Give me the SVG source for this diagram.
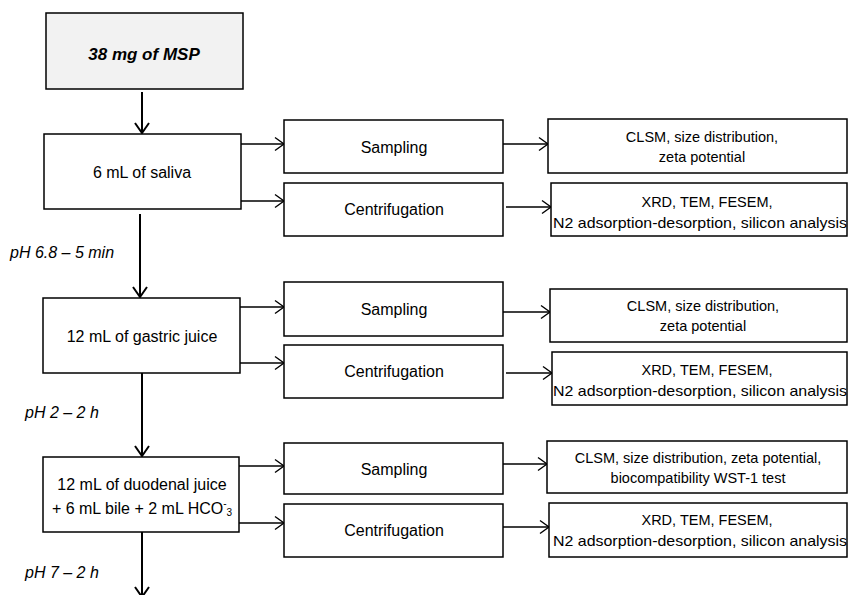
<svg xmlns="http://www.w3.org/2000/svg" width="848" height="595" viewBox="0 0 848 595">
<defs>
<style>
.box{fill:#ffffff;stroke:#000;stroke-width:1.5}
.src{fill:#f2f2f2;stroke:#000;stroke-width:1.5}
.t{font-family:"Liberation Sans",Arial,sans-serif;fill:#000;text-anchor:middle;dominant-baseline:central}
.m{font-size:16px}
.s{font-size:14.5px}
.ph{font-family:"Liberation Sans",Arial,sans-serif;font-style:italic;font-size:16px;fill:#000}
.h{fill:none;stroke:#000;stroke-width:1.3}
.v{fill:none;stroke:#000;stroke-width:2}
</style>
<marker id="ah" markerUnits="userSpaceOnUse" markerWidth="14" markerHeight="16" refX="12" refY="8" orient="auto">
<path d="M3,1.5 L12,8 L3,14.5" fill="none" stroke="#000" stroke-width="1.4"/>
</marker>
<marker id="av" markerUnits="userSpaceOnUse" markerWidth="16" markerHeight="18" refX="13" refY="9" orient="auto">
<path d="M3,2 L13,9 L3,16" fill="none" stroke="#000" stroke-width="2"/>
</marker>
</defs>
<rect width="848" height="595" fill="#ffffff"/>

<g id="connectors">
<line class="v" x1="142" y1="92" x2="142" y2="133" marker-end="url(#av)"/>
<line class="v" x1="140" y1="214" x2="140" y2="297" marker-end="url(#av)"/>
<line class="v" x1="142" y1="373" x2="142" y2="456" marker-end="url(#av)"/>
<line class="v" x1="142" y1="532" x2="142" y2="597" marker-end="url(#av)"/>

<line class="h" x1="241" y1="144" x2="284" y2="144" marker-end="url(#ah)"/>
<line class="h" x1="241" y1="201" x2="284" y2="201" marker-end="url(#ah)"/>
<line class="h" x1="503" y1="144" x2="548" y2="144" marker-end="url(#ah)"/>
<line class="h" x1="506" y1="207" x2="551" y2="207" marker-end="url(#ah)"/>

<line class="h" x1="240" y1="307" x2="284" y2="307" marker-end="url(#ah)"/>
<line class="h" x1="240" y1="363" x2="284" y2="363" marker-end="url(#ah)"/>
<line class="h" x1="503" y1="312" x2="550" y2="312" marker-end="url(#ah)"/>
<line class="h" x1="506" y1="373" x2="552" y2="373" marker-end="url(#ah)"/>

<line class="h" x1="239" y1="466" x2="284" y2="466" marker-end="url(#ah)"/>
<line class="h" x1="239" y1="523" x2="284" y2="523" marker-end="url(#ah)"/>
<line class="h" x1="503" y1="464" x2="547" y2="464" marker-end="url(#ah)"/>
<line class="h" x1="501" y1="527" x2="549" y2="527" marker-end="url(#ah)"/>
</g>

<g id="msp">
<rect class="src" x="46" y="13" width="197" height="76"/>
<text class="t" x="144" y="54" style="font-size:17px;font-style:italic;font-weight:bold">38 mg of MSP</text>
</g>

<g id="saliva">
<rect class="box" x="44" y="134" width="197" height="75"/>
<text class="t m" x="142" y="172">6 mL of saliva</text>
</g>
<text class="ph" x="10" y="258">pH 6.8 – 5 min</text>

<g id="sampling1">
<rect class="box" x="284" y="120" width="219" height="53"/>
<text class="t m" x="394" y="147">Sampling</text>
</g>
<g id="centrifugation1">
<rect class="box" x="284" y="183" width="219" height="53"/>
<text class="t m" x="394" y="209">Centrifugation</text>
</g>
<g id="result1a">
<rect class="box" x="548" y="119" width="299" height="54"/>
<text class="t s" x="702" y="137">CLSM, size distribution,</text>
<text class="t s" x="702" y="157">zeta potential</text>
</g>
<g id="result1b">
<rect class="box" x="551" y="183" width="296" height="53"/>
<text class="t s" x="707" y="202">XRD, TEM, FESEM,</text>
<text class="t s" x="700" y="223" textLength="294" lengthAdjust="spacingAndGlyphs">N2 adsorption-desorption, silicon analysis</text>
</g>

<g id="gastric">
<rect class="box" x="43" y="298" width="197" height="75"/>
<text class="t m" x="142" y="336">12 mL of gastric juice</text>
</g>
<text class="ph" x="25" y="418">pH 2 – 2 h</text>

<g id="sampling2">
<rect class="box" x="284" y="282" width="219" height="54"/>
<text class="t m" x="394" y="309">Sampling</text>
</g>
<g id="centrifugation2">
<rect class="box" x="284" y="345" width="219" height="53"/>
<text class="t m" x="394" y="371">Centrifugation</text>
</g>
<g id="result2a">
<rect class="box" x="550" y="289" width="297" height="53"/>
<text class="t s" x="703" y="306">CLSM, size distribution,</text>
<text class="t s" x="703" y="326">zeta potential</text>
</g>
<g id="result2b">
<rect class="box" x="552" y="352" width="295" height="53"/>
<text class="t s" x="707" y="370">XRD, TEM, FESEM,</text>
<text class="t s" x="700" y="391" textLength="294" lengthAdjust="spacingAndGlyphs">N2 adsorption-desorption, silicon analysis</text>
</g>

<g id="duodenal">
<rect class="box" x="43" y="457" width="196" height="75"/>
<text class="t m" x="142" y="484">12 mL of duodenal juice</text>
<text class="t m" x="142" y="508">+ 6 mL bile + 2 mL HCO<tspan font-size="10" dy="-5">-</tspan><tspan font-size="10" dy="9">3</tspan></text>
</g>
<text class="ph" x="25" y="578">pH 7 – 2 h</text>

<g id="sampling3">
<rect class="box" x="284" y="443" width="219" height="51"/>
<text class="t m" x="394" y="469">Sampling</text>
</g>
<g id="centrifugation3">
<rect class="box" x="284" y="504" width="219" height="53"/>
<text class="t m" x="394" y="530">Centrifugation</text>
</g>
<g id="result3a">
<rect class="box" x="547" y="441" width="300" height="52"/>
<text class="t s" x="698" y="458">CLSM, size distribution,  zeta potential,</text>
<text class="t s" x="698" y="478">biocompatibility WST-1 test</text>
</g>
<g id="result3b">
<rect class="box" x="549" y="503" width="298" height="54"/>
<text class="t s" x="707" y="520">XRD, TEM, FESEM,</text>
<text class="t s" x="700" y="541" textLength="294" lengthAdjust="spacingAndGlyphs">N2 adsorption-desorption, silicon analysis</text>
</g>
</svg>
